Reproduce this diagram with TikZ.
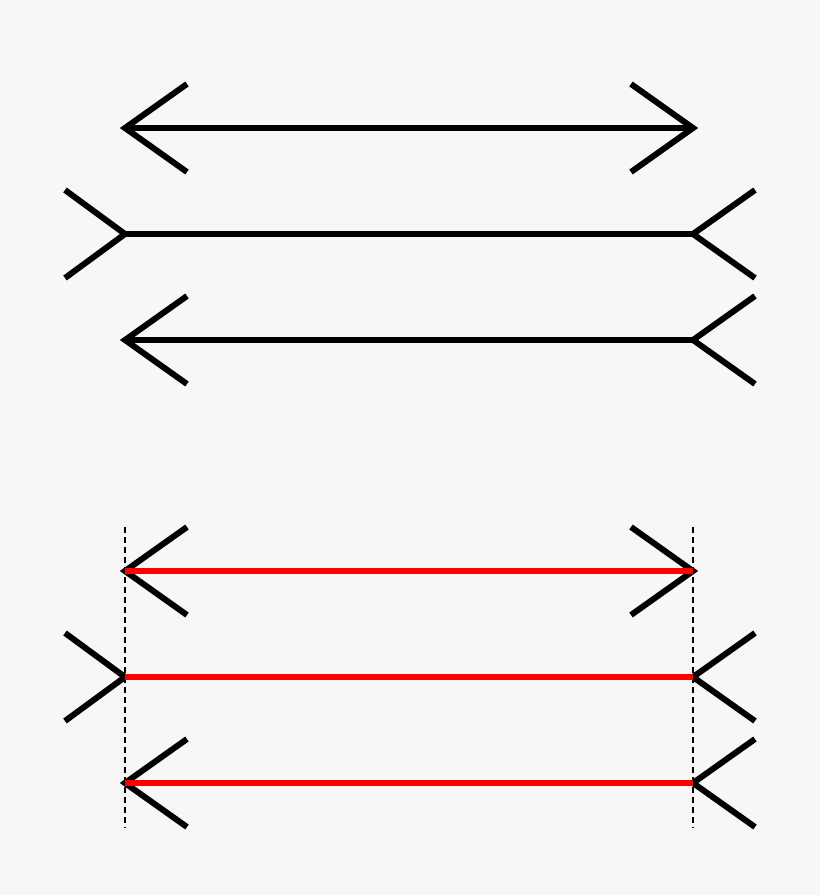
\documentclass[tikz,border=0pt]{standalone}
\usepackage{xcolor}
\definecolor{paper}{HTML}{F7F7F8}
\tikzset{
  fin/.style={black,line width=6pt,line join=miter},
  shaft/.style={black,line width=6pt},
  redshaft/.style={red,line width=6.5pt},
  guide/.style={black,line width=1.4pt,dash pattern=on 6pt off 4pt}
}
\begin{document}
\begin{tikzpicture}[x=1pt,y=-1pt]
  \fill[paper] (0,0) rectangle (820,895);
  \useasboundingbox (0,0) rectangle (820,895);

  % upper figure
  \draw[shaft] (125,128) -- (693,128);
  \draw[fin] (187,84) -- (125,128) -- (187,172);
  \draw[fin] (631,84) -- (693,128) -- (631,172);

  \draw[shaft] (125,234) -- (693,234);
  \draw[fin] (65,190) -- (125,234) -- (65,278);
  \draw[fin] (755,190) -- (693,234) -- (755,278);

  \draw[shaft] (125,340) -- (693,340);
  \draw[fin] (187,296) -- (125,340) -- (187,384);
  \draw[fin] (755,296) -- (693,340) -- (755,384);

  % lower figure, with guides
  \draw[guide] (125,527) -- (125,828);
  \draw[guide] (693,527) -- (693,828);

  \draw[fin] (187,527) -- (125,571) -- (187,615);
  \draw[fin] (631,527) -- (693,571) -- (631,615);
  \draw[redshaft] (125,571) -- (693,571);

  \draw[fin] (65,633) -- (125,677) -- (65,721);
  \draw[fin] (755,633) -- (693,677) -- (755,721);
  \draw[redshaft] (125,677) -- (693,677);

  \draw[fin] (187,739) -- (125,783) -- (187,827);
  \draw[fin] (755,739) -- (693,783) -- (755,827);
  \draw[redshaft] (125,783) -- (693,783);
\end{tikzpicture}
\end{document}
